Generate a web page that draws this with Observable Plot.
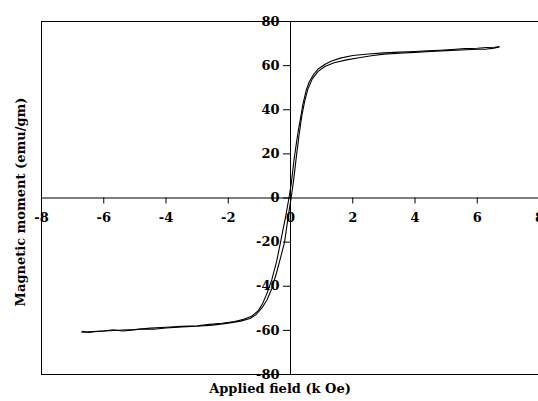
<!DOCTYPE html>
<html>
<head>
<meta charset="utf-8">
<script src="https://cdn.jsdelivr.net/npm/d3@7"></script>
<script src="https://cdn.jsdelivr.net/npm/@observablehq/plot@0.6"></script>
<style>
  html, body { margin: 0; padding: 0; background: #fff; }
</style>
</head>
<body>
<div id="chart"></div>
<script>
// Descending branch (from +H saturation to -H saturation)
const descX = [6.7, 6.55, 6.3, 6.0, 5.6, 5.2, 4.8, 4.4, 4.0, 3.5, 3.0, 2.5, 2.0, 1.6, 1.3, 1.1, 0.9, 0.75, 0.6, 0.5, 0.4, 0.32, 0.25, 0.18, 0.11, 0.03, -0.05, -0.15, -0.25, -0.32, -0.45, -0.6, -0.75, -0.9, -1.05, -1.25, -1.5, -1.8, -2.2, -2.6, -3.0, -3.5, -4.0, -4.5, -5.0, -5.4, -5.8, -6.2, -6.5, -6.7];
const descY = [68.5, 68.3, 68.2, 67.9, 67.7, 67.3, 67.0, 66.7, 66.4, 66.1, 65.8, 65.3, 64.6, 63.4, 62.0, 60.5, 58.6, 56.2, 52.6, 48.6, 42.6, 36, 30.5, 24, 17, 7, 0, -8, -15, -20, -29, -37, -43, -48, -51.3, -53.6, -55.0, -56.0, -56.8, -57.3, -57.9, -58.2, -58.6, -59.0, -59.6, -59.8, -60.2, -60.4, -60.7, -60.8];

// Ascending branch (from -H saturation to +H saturation)
const ascX = [-6.7, -6.5, -6.3, -6.0, -5.7, -5.4, -5.1, -4.8, -4.4, -4.0, -3.5, -3.0, -2.5, -2.0, -1.6, -1.3, -1.1, -0.9, -0.75, -0.6, -0.45, -0.3, -0.19, -0.08, 0.02, 0.1, 0.19, 0.27, 0.36, 0.45, 0.55, 0.7, 0.88, 1.1, 1.4, 1.8, 2.2, 2.6, 3.0, 3.5, 4.0, 4.5, 5.0, 5.5, 6.0, 6.3, 6.5, 6.7];
const ascY = [-60.4, -60.9, -60.6, -60.3, -59.7, -60.3, -59.9, -59.4, -59.5, -58.9, -58.4, -58.1, -57.6, -56.7, -55.8, -54.6, -52.8, -49.5, -46, -41, -34, -26, -20, -9, 0, 8, 19, 28, 37, 43.5, 49, 54, 57.3, 59.6, 61.3, 62.6, 63.6, 64.5, 65.2, 65.6, 66.0, 66.4, 66.8, 67.1, 67.4, 67.5, 67.8, 68.5];

const xTicks = [-8, -6, -4, -2, 0, 2, 4, 6, 8];
const yTicks = [-80, -60, -40, -20, 0, 20, 40, 60, 80];
const xTitle = "Applied field (k Oe)";
const yTitle = "Magnetic moment (emu/gm)";

const desc = descX.map((x, i) => ({x, y: descY[i]}));
const asc = ascX.map((x, i) => ({x, y: ascY[i]}));

const font = "DejaVu Serif";

const chart = Plot.plot({
  width: 538,
  height: 401,
  marginLeft: 41,
  marginRight: 0,
  marginTop: 21,
  marginBottom: 27,
  style: {background: "#fff", fontFamily: font, color: "#000"},
  x: {domain: [-8, 8], range: [41, 539], axis: null},
  y: {domain: [-80, 80], axis: null},
  marks: [
    // frame
    Plot.ruleY([-80, 80], {stroke: "#000", strokeWidth: 1}),
    Plot.ruleX([-8, 8], {stroke: "#000", strokeWidth: 1}),
    // axes through origin
    Plot.ruleY([0], {stroke: "#000", strokeWidth: 1}),
    Plot.ruleX([0], {stroke: "#000", strokeWidth: 1}),
    // x ticks (down from y=0 line)
    Plot.ruleX(xTicks, {x: d => d, y1: 0, y2: 0, insetTop: 0, insetBottom: -6, stroke: "#000"}),
    // y ticks (left of x=0 line)
    Plot.ruleY(yTicks, {y: d => d, x1: 0, x2: 0, insetLeft: -7, insetRight: 0, stroke: "#000"}),
    // tick labels
    Plot.text(xTicks, {x: d => d, y: 0, text: d => String(d), dy: 20, fontSize: 13, fontWeight: "bold", fill: "#000", lineAnchor: "middle"}),
    Plot.text(yTicks, {x: 0, y: d => d, text: d => String(d), dx: -11, textAnchor: "end", fontSize: 13, fontWeight: "bold", fill: "#000", lineAnchor: "middle"}),
    // curves
    Plot.line(desc, {x: "x", y: "y", stroke: "#000", strokeWidth: 1.1}),
    Plot.line(asc, {x: "x", y: "y", stroke: "#000", strokeWidth: 1.1}),
    // axis titles
    Plot.text([xTitle], {frameAnchor: "bottom", text: d => d, dy: 14, dx: -10, fontSize: 13, fontWeight: "bold", fill: "#000", lineAnchor: "middle", textAnchor: "middle"}),
    Plot.text([yTitle], {frameAnchor: "left", text: d => d, rotate: -90, dx: -21, dy: 4, fontSize: 13, fontWeight: "bold", fill: "#000", lineAnchor: "middle", textAnchor: "middle"})
  ]
});
document.getElementById("chart").appendChild(chart);
</script>
</body>
</html>
